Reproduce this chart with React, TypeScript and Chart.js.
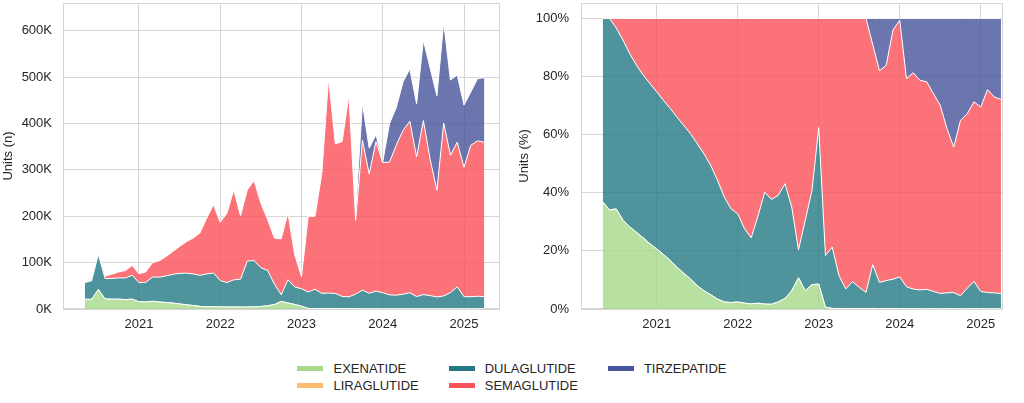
import React, { useEffect, useRef } from "react";
import { Chart, registerables } from "chart.js";

Chart.register(...registerables);

// monthly periods
const MONTHS = [
  "2020-05", "2020-06", "2020-07", "2020-08", "2020-09", "2020-10", "2020-11", "2020-12",
  "2021-01", "2021-02", "2021-03", "2021-04", "2021-05", "2021-06", "2021-07", "2021-08", "2021-09", "2021-10", "2021-11", "2021-12",
  "2022-01", "2022-02", "2022-03", "2022-04", "2022-05", "2022-06", "2022-07", "2022-08", "2022-09", "2022-10", "2022-11", "2022-12",
  "2023-01", "2023-02", "2023-03", "2023-04", "2023-05", "2023-06", "2023-07", "2023-08", "2023-09", "2023-10", "2023-11", "2023-12",
  "2024-01", "2024-02", "2024-03", "2024-04", "2024-05", "2024-06", "2024-07", "2024-08", "2024-09", "2024-10", "2024-11", "2024-12",
  "2025-01", "2025-02", "2025-03", "2025-04",
];

// units per month, in thousands
const EXENATIDE = [
  21, 20.7, 42, 21.7, 21.2, 21.1, 20.3, 21.1,
  15.7, 15, 16.7, 15, 13.9, 12.8, 10.8, 9.1, 7.5, 5.6, 4.7, 5,
  4.5, 4.2, 4.5, 4, 4.3, 4.5, 5.5, 7, 9.6, 16.2, 13, 9.8,
  6, 1.2, 0.4, 0.5, 0.8, 0.5, 0.5, 0.5, 0.4, 0.4, 0.4, 0.4,
  0.3, 0.3, 0.3, 0.3, 0.3, 0.3, 0.3, 0.3, 0.3, 0.3, 0.3, 0.3,
  0.3, 0.3, 0.3, 0.3,
];
const LIRAGLUTIDE = [
  0, 0, 0, 0, 0, 0, 0, 0,
  0, 0, 0, 0, 0, 0, 0, 0, 0, 0, 0, 0,
  0, 0, 0, 0, 0, 0, 0, 0, 0, 0, 0, 0,
  0, 0, 0, 0, 0, 0, 0, 0, 0, 0, 0, 0,
  0, 0, 0, 0, 0, 0, 0, 0, 0, 0, 0, 0,
  0, 0, 0, 0,
];
const DULAGLUTIDE = [
  36, 40, 76, 44, 44.7, 46, 46.5, 51.8,
  41.1, 42.4, 52.3, 53.7, 57.5, 62, 66, 68.3, 68.1, 67.1, 70.8, 72.6,
  56.8, 52.9, 58.5, 60.3, 99, 99.9, 83.6, 76.2, 44.1, 14.5, 50.1, 37.9,
  37.7, 35.6, 42.2, 33.2, 33.6, 33, 26.6, 25.8, 31.6, 40.3, 33.5, 38.2,
  34.8, 30.3, 29.5, 31.8, 34.7, 26.5, 30.8, 28.6, 25.7, 27.9, 35.1, 47.5,
  26.3, 26.2, 27.3, 26.4,
];
const SEMAGLUTIDE = [
  0, 0, 4, 5.3, 9.1, 12.9, 16.2, 21.1,
  19.2, 22.6, 31, 35.3, 41.6, 49.2, 58.2, 67.6, 77.4, 91.3, 120.5, 147.4,
  125.7, 149.9, 194, 136.7, 153.7, 172.6, 138.9, 109.8, 99.3, 120.3, 143.9, 69.3,
  26.3, 163.2, 157.4, 259.3, 463.6, 322.5, 333.9, 435.7, 159, 323.2, 257.1, 322.3,
  280.8, 286.4, 323.7, 353.3, 369.9, 301.3, 375.3, 293.8, 230, 372.7, 296.4, 312.1,
  279, 326.6, 335, 332.9,
];
const TIRZEPATIDE = [
  0, 0, 0, 0, 0, 0, 0, 0,
  0, 0, 0, 0, 0, 0, 0, 0, 0, 0, 0, 0,
  0, 0, 0, 0, 0, 0, 0, 0, 0, 0, 0, 0,
  0, 0, 0, 0, 0, 0, 0, 0, 18.9, 80, 55.9, 15,
  1.9, 82.8, 81.3, 104.4, 112.9, 114.7, 173.4, 197.1, 203.8, 216.9, 162, 144.9,
  134.2, 114.7, 134.2, 139.2,
];

const YEAR_TICKS = [2021, 2022, 2023, 2024, 2025];
const UNIT_TICKS = [0, 100, 200, 300, 400, 500, 600];
const SHARE_TICKS = [0, 20, 40, 60, 80, 100];

const SERIES = [
  { label: "EXENATIDE", data: EXENATIDE, color: [166, 217, 138] },
  { label: "LIRAGLUTIDE", data: LIRAGLUTIDE, color: [250, 190, 110] },
  { label: "DULAGLUTIDE", data: DULAGLUTIDE, color: [35, 120, 132] },
  { label: "SEMAGLUTIDE", data: SEMAGLUTIDE, color: [250, 80, 88] },
  { label: "TIRZEPATIDE", data: TIRZEPATIDE, color: [70, 83, 154] },
];

// legend reads down the columns
const LEGEND_ORDER = ["EXENATIDE", "LIRAGLUTIDE", "DULAGLUTIDE", "SEMAGLUTIDE", "TIRZEPATIDE"];

const FONT = "'Liberation Sans', Arial, Helvetica, sans-serif";
const TEXT = "#262626";
const GRID = "#d6d6d6";

const xs = MONTHS.map((m) => {
  const [y, mo] = m.split("-").map(Number);
  return y + (mo - 1) / 12;
});
const totals = MONTHS.map((_, i) => SERIES.reduce((s, d) => s + d.data[i], 0));

const rgba = (c: number[], a: number) => `rgba(${c[0]},${c[1]},${c[2]},${a})`;

const framePlugin = {
  id: "frame",
  beforeDatasetsDraw(chart: any) {
    const { ctx, chartArea: a } = chart;
    ctx.save();
    ctx.strokeStyle = GRID;
    ctx.lineWidth = 1;
    ctx.strokeRect(Math.round(a.left) + 0.5, Math.round(a.top) + 0.5, Math.round(a.right - a.left) - 1, Math.round(a.bottom - a.top) - 1);
    ctx.restore();
  },
};

type PanelProps = {
  share: boolean;
  left: number;
  width: number;
  height: number;
  axisWidth: number;
  padRight: number;
  xMax: number;
  yMax: number;
  titlePad: number;
  tickPad: number;
};

const Panel: React.FC<PanelProps> = (p) => {
  const ref = useRef<HTMLCanvasElement | null>(null);

  useEffect(() => {
    if (!ref.current) return;
    const font = { family: FONT, size: 13 };
    const chart = new Chart(ref.current, {
      type: "line",
      data: {
        datasets: SERIES.map((s, k) => ({
          label: s.label,
          data: xs.map((x, i) => ({ x, y: p.share ? (s.data[i] / totals[i]) * 100 : s.data[i] })),
          backgroundColor: rgba(s.color, 0.8),
          borderColor: "#ffffff",
          borderWidth: 1,
          pointRadius: 0,
          tension: 0,
          fill: k === 0 ? "origin" : "-1",
        })),
      },
      options: {
        responsive: false,
        animation: false,
        layout: { padding: { top: 3, right: p.padRight, left: 0, bottom: 0 } },
        plugins: { legend: { display: false }, tooltip: { enabled: false } },
        scales: {
          x: {
            type: "linear",
            min: 2020.065,
            max: p.xMax,
            afterBuildTicks: (ax: any) => {
              ax.ticks = YEAR_TICKS.map((v) => ({ value: v }));
            },
            afterFit: (ax: any) => {
              ax.height = 31;
              ax.paddingLeft = 0;
              ax.paddingRight = 0;
            },
            ticks: { font, color: TEXT, padding: 8, maxRotation: 0, callback: (v: any) => String(v) },
            grid: { color: GRID, lineWidth: 1, drawTicks: false },
            border: { display: false },
          },
          y: {
            stacked: true,
            min: 0,
            max: p.yMax,
            afterBuildTicks: (ax: any) => {
              ax.ticks = (p.share ? SHARE_TICKS : UNIT_TICKS).map((v) => ({ value: v }));
            },
            afterFit: (ax: any) => {
              ax.width = p.axisWidth;
              ax.paddingTop = 0;
              ax.paddingBottom = 0;
            },
            ticks: {
              font,
              color: TEXT,
              padding: p.tickPad,
              callback: (v: any) => (p.share ? `${v}%` : `${v}K`),
            },
            title: {
              display: true,
              text: p.share ? "Units (%)" : "Units (n)",
              font,
              color: TEXT,
              padding: { top: p.titlePad, bottom: 0 },
            },
            grid: { color: GRID, lineWidth: 1, drawTicks: false },
            border: { display: false },
          },
        },
      },
      plugins: [framePlugin],
    } as any);
    return () => chart.destroy();
  }, []);

  return (
    <canvas
      ref={ref}
      width={p.width}
      height={p.height}
      style={{ position: "absolute", left: p.left, top: 0, width: p.width, height: p.height }}
    />
  );
};

const App: React.FC = () => {
  return (
    <div
      style={{
        position: "fixed",
        left: 0,
        top: 0,
        width: 1024,
        height: 403,
        background: "#ffffff",
        overflow: "hidden",
        fontFamily: FONT,
      }}
    >
      <Panel share={false} left={0} width={512} height={340} axisWidth={63} padRight={12} xMax={2025.443} yMax={660} titlePad={0.5} tickPad={11} />
      <Panel share={true} left={512} width={512} height={340} axisWidth={69} padRight={21} xMax={2025.275} yMax={105.3} titlePad={5} tickPad={12} />

      {/* Legend */}
      <div style={{ position: "absolute", left: 0, top: 359.5, width: 1024, display: "flex", justifyContent: "center" }}>
        <div style={{ display: "grid", gridTemplateRows: "17px 17px", gridAutoFlow: "column", columnGap: 30 }}>
          {LEGEND_ORDER.map((name) => {
            const s = SERIES.find((d) => d.label === name)!;
            return (
              <div key={name} style={{ display: "flex", alignItems: "center", height: 17 }}>
                <div style={{ width: 26, height: 5, background: rgba(s.color, 1), marginRight: 10 }} />
                <span style={{ fontSize: 13, lineHeight: "17px", color: TEXT, whiteSpace: "nowrap" }}>{name}</span>
              </div>
            );
          })}
        </div>
      </div>
    </div>
  );
};

export default App;
